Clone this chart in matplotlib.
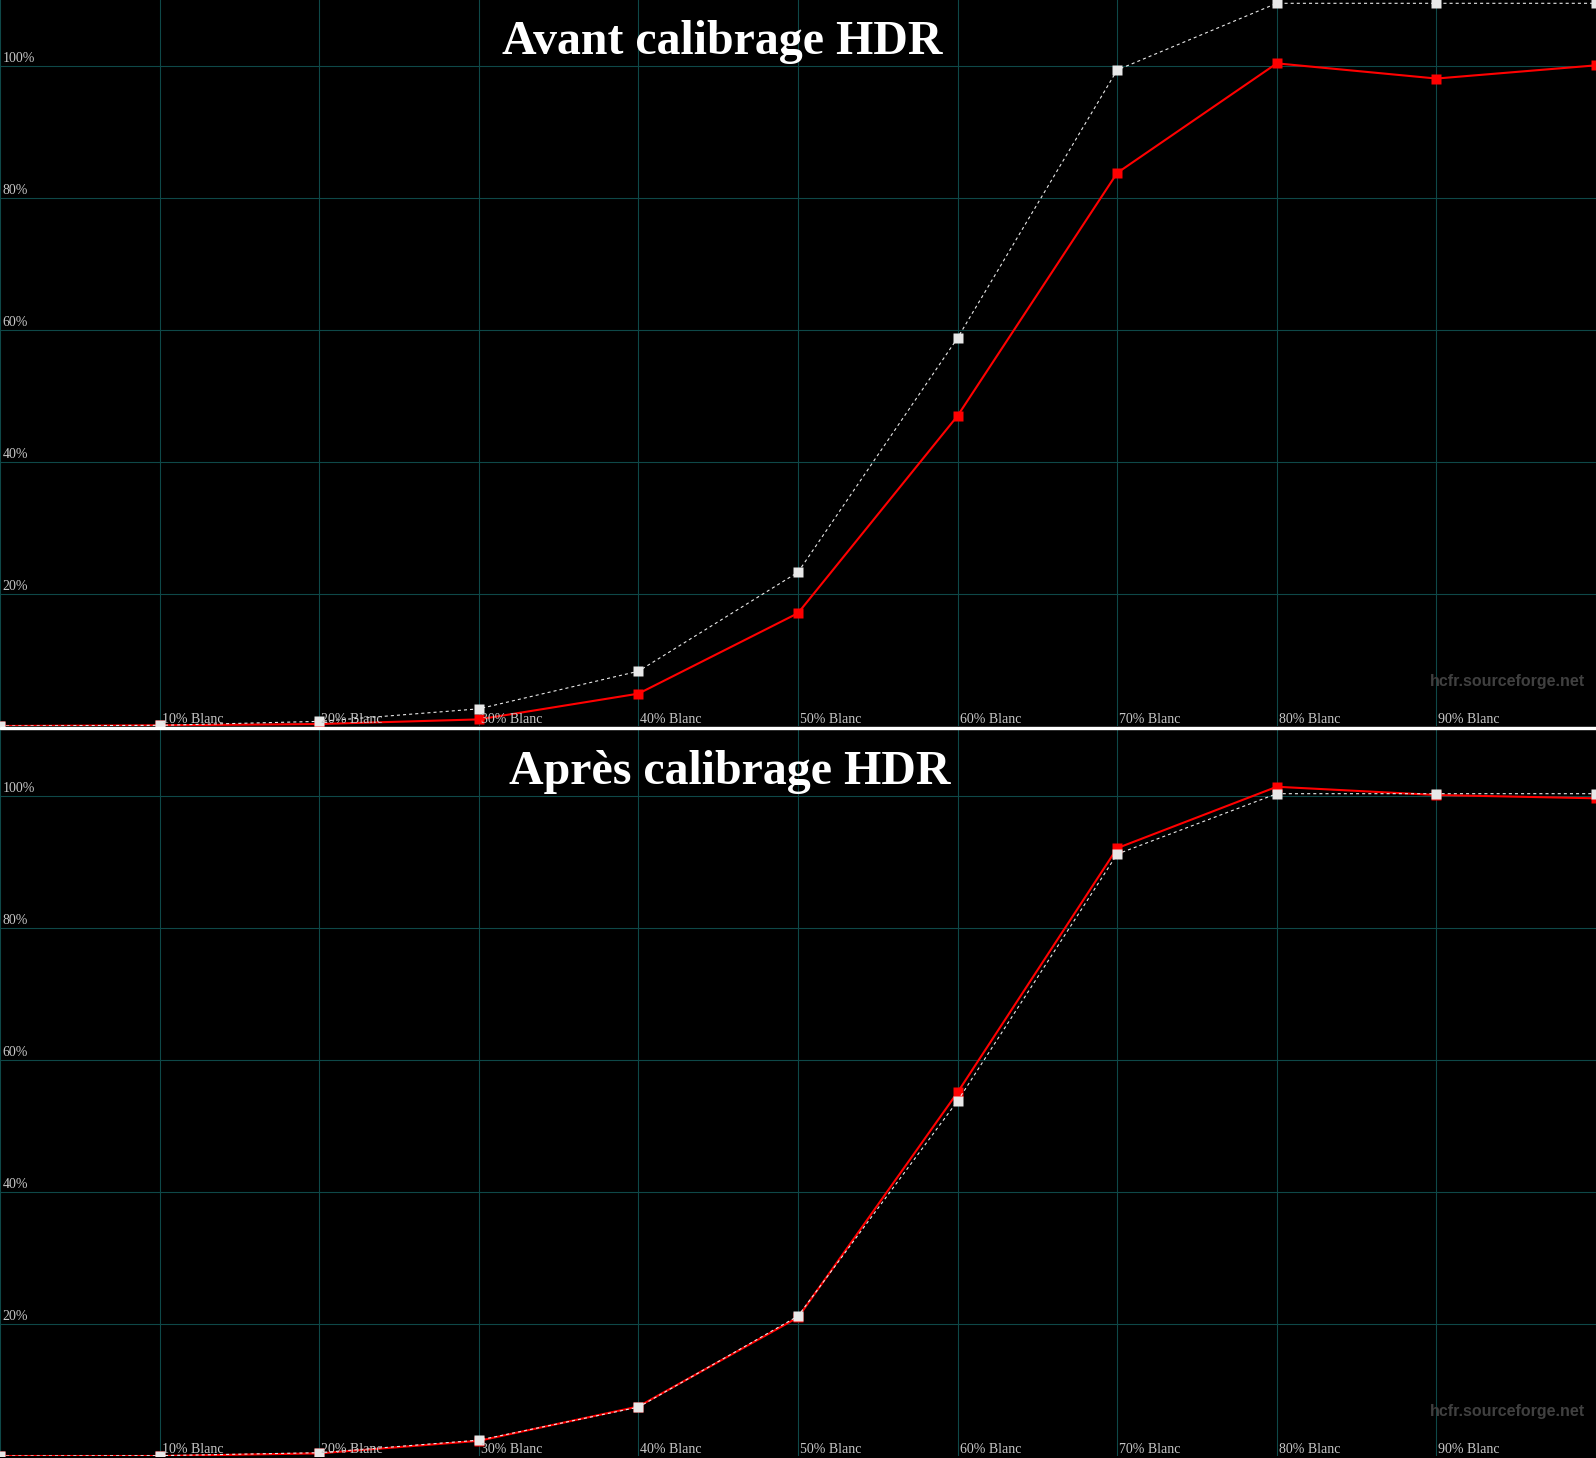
import matplotlib.pyplot as plt
from matplotlib.patches import Rectangle

# Data (luminance response, % of target peak)
levels = [0, 10, 20, 30, 40, 50, 60, 70, 80, 90, 100]
x_labels = ["10% Blanc", "20% Blanc", "30% Blanc", "40% Blanc", "50% Blanc",
            "60% Blanc", "70% Blanc", "80% Blanc", "90% Blanc"]
y_ticks = [20, 40, 60, 80, 100]

# before calibration
avant_ref = [0, 0.1, 0.7, 2.6, 8.3, 23.3, 58.8, 99.4, 109.5, 109.5, 109.5]
avant_mes = [0, 0.1, 0.3, 1.0, 4.9, 17.1, 47.0, 83.8, 100.4, 98.1, 100.1]

# after calibration
apres_ref = [0, 0.05, 0.5, 2.4, 7.4, 21.2, 53.8, 91.2, 100.35, 100.35, 100.35]
apres_mes = [0, 0.0, 0.4, 2.3, 7.5, 21.0, 55.1, 92.1, 101.4, 100.15, 99.65]

titles = ["Avant calibrage HDR", "Après calibrage HDR"]
title_x = [0.4525, 0.4575]

W, H = 1596, 1458
plt.rcParams['lines.scale_dashes'] = False
fig = plt.figure(figsize=(W / 100, H / 100), dpi=100, facecolor='black')

grid_col = '#0e4848'
label_col = '#c8c8c8'


def draw_panel(ax, ref, mes, title, tx):
    ax.set_facecolor('black')
    ax.set_xlim(0, 100)
    ax.set_ylim(0, 110)
    for s in ax.spines.values():
        s.set_visible(False)
    ax.set_xticks([])
    ax.set_yticks([])
    for x in levels:
        ax.axvline(x, color=grid_col, lw=0.8, zorder=1)
    for y in y_ticks:
        ax.axhline(y, color=grid_col, lw=0.8, zorder=1)

    ax.plot(levels, mes, color='#ff0000', lw=1.5, marker='s', ms=6.5,
            mec='none', zorder=3)
    ax.plot(levels, ref, color='#e8e8e8', lw=0.8, ls=(0, (2.2, 2.2)),
            zorder=4)
    ax.plot(levels, ref, ls='none', marker='s', ms=6.5, color='#e8e8e8',
            mec='none', zorder=5)

    for y in y_ticks:
        ax.annotate(f"{y}%", xy=(0, y), xytext=(2, 3), textcoords='offset points',
                    ha='left', va='baseline', color=label_col, fontsize=10,
                    family='Liberation Serif', zorder=6)
    for x, lab in zip(levels[1:-1], x_labels):
        ax.annotate(lab, xy=(x, 0), xytext=(1.5, 2.5), textcoords='offset points',
                    ha='left', va='baseline', color=label_col, fontsize=10,
                    family='Liberation Serif', zorder=6)

    ax.text(tx, 0.926, title, transform=ax.transAxes, ha='center',
            va='baseline', color='white', fontsize=34.5, fontweight='bold',
            family='Liberation Serif', zorder=7)
    ax.text(0.993, 0.055, "hcfr.sourceforge.net", transform=ax.transAxes,
            ha='right', va='baseline', color='#404040', fontsize=11.5,
            fontweight='bold', family='Liberation Sans', zorder=6)


ph = 726
ax1 = fig.add_axes([0, (H - ph) / H, 1, ph / H])
ax2 = fig.add_axes([0, 2 / H, 1, ph / H])
draw_panel(ax1, avant_ref, avant_mes, titles[0], title_x[0])
draw_panel(ax2, apres_ref, apres_mes, titles[1], title_x[1])

# white separator between the two charts
fig.add_artist(Rectangle((0, (H - 729) / H), 1, 2 / H, transform=fig.transFigure,
                         color='white', zorder=10))

fig.savefig('out.png', dpi=100, facecolor='black')
